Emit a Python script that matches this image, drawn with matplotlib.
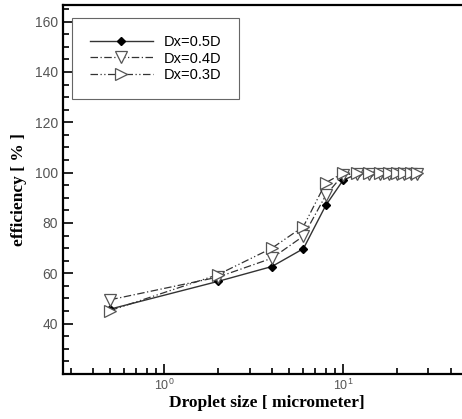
import numpy as np
import matplotlib.pyplot as plt
from matplotlib.ticker import LogLocator, MultipleLocator, NullFormatter

plt.rcParams['font.family'] = ['Liberation Sans', 'DejaVu Sans']
plt.rcParams['mathtext.fontset'] = 'custom'
plt.rcParams['mathtext.rm'] = 'Liberation Sans'

# droplet sizes (micrometer)
size = [0.5, 2, 4, 6, 8, 10, 12, 14, 16, 18, 20, 22, 24, 26]

# efficiency [%]
eff_05 = [45.8, 56.8, 62.7, 69.8, 87.0, 97.0, 99.5, 99.5, 99.5, 99.5, 99.5, 99.5, 99.5, 99.5]
eff_04 = [49.5, 58.5, 66.0, 74.8, 91.0, 99.2, 99.5, 99.5, 99.5, 99.5, 99.5, 99.5, 99.5, 99.5]
eff_03 = [45.2, 59.5, 70.0, 78.6, 96.0, 99.8, 99.8, 99.8, 99.8, 99.8, 99.8, 99.8, 99.8, 99.8]

fig = plt.figure(figsize=(4.62, 4.19), dpi=100)
ax = fig.add_axes([63/462, 45/419, 1.02 - 63/462, (374 - 5)/419])

ax.plot(size, eff_05, color='#333333', lw=1.0, ls='-', marker='D', ms=4.5,
        mfc='black', mec='black', label='Dx=0.5D')
ax.plot(size, eff_04, color='#333333', lw=0.9, ls=(0, (6, 2, 1, 2)), marker='v', ms=8.5,
        mfc='white', mec='#555555', mew=0.9, label='Dx=0.4D')
ax.plot(size, eff_03, color='#333333', lw=0.9, ls=(0, (6, 2, 1, 2, 1, 2)), marker='>', ms=8.5,
        mfc='white', mec='#555555', mew=0.9, label='Dx=0.3D')

ax.set_xscale('log')
ax.set_xlim(0.272, 52)
ax.set_ylim(20, 166.6)

ax.yaxis.set_major_locator(MultipleLocator(20))
ax.yaxis.set_minor_locator(MultipleLocator(5))
ax.set_yticks([40, 60, 80, 100, 120, 140, 160])
ax.xaxis.set_major_locator(LogLocator(base=10))
ax.xaxis.set_minor_locator(LogLocator(base=10, subs=np.arange(2, 10)))
ax.xaxis.set_minor_formatter(NullFormatter())

ax.tick_params(which='both', direction='in', top=False, right=False,
               labelsize=10, labelcolor='#555555', width=1.2)
ax.tick_params(which='major', length=7)
ax.tick_params(which='minor', length=4)
ax.tick_params(axis='x', which='major', pad=3, labelsize=9)

for s in ['top', 'left', 'bottom']:
    ax.spines[s].set_linewidth(1.6)
ax.spines['right'].set_visible(False)

ax.set_xlabel('Droplet size [ micrometer]', family='Liberation Serif',
              fontweight='bold', fontsize=12.5, labelpad=1)
ax.set_ylabel('efficiency [ % ]', family='Liberation Serif',
              fontweight='bold', fontsize=12.5, labelpad=6)

leg = ax.legend(loc='upper left', bbox_to_anchor=(0.005, 0.985), fancybox=False,
                edgecolor='#666666', framealpha=1, fontsize=10.5, handlelength=4.3,
                borderpad=1.2, labelspacing=0.15, handletextpad=0.8)
leg.get_frame().set_linewidth(0.8)

fig.savefig('out.png', dpi=100)
